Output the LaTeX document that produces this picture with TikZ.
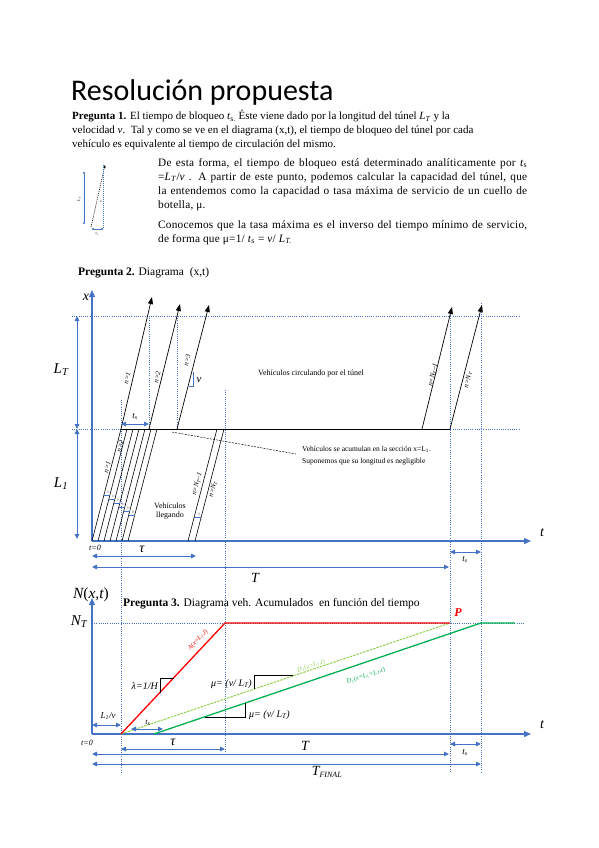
\documentclass[tikz,border=0pt]{standalone}
\usepackage{fontspec}
\setmainfont{Liberation Serif}
\newfontfamily\titlefont{Carlito}
\newfontfamily\parfont[LetterSpace=2]{Liberation Serif}
\usetikzlibrary{arrows.meta}
\definecolor{ablue}{HTML}{4472C4}
\definecolor{agreen}{HTML}{00B050}
\definecolor{lgreen}{HTML}{92D050}
\newcommand{\vsub}[2]{\textit{#1}\textsubscript{\textit{#2}}}
\begin{document}
\begin{tikzpicture}[x=1pt,y=-1pt,
  axis/.style={ablue, line width=1.3pt, -{Triangle[length=7pt,width=6pt]}},
  dim/.style={ablue, line width=0.9pt, {Triangle[length=5pt,width=4.5pt]}-{Triangle[length=5pt,width=4.5pt]}},
  guide/.style={ablue, line width=0.6pt, dash pattern=on 1pt off 1.2pt},
  traj/.style={black, line width=0.6pt},
  trajarrow/.style={black, line width=0.7pt, -{Triangle[length=7pt,width=5pt]}},
  body/.style={font=\fontsize{11}{13}\selectfont, inner sep=0pt, anchor=base west},
  pbody/.style={font=\parfont\fontsize{11.3}{13}\selectfont, inner sep=0pt, anchor=base west},
  head/.style={font=\fontsize{11.5}{13}\selectfont, inner sep=0pt, anchor=base west},
  tiny/.style={font=\fontsize{7}{8}\selectfont, inner sep=0pt},
  small/.style={font=\fontsize{7.5}{9}\selectfont, inner sep=0pt},
  note/.style={font=\fontsize{8}{9.5}\selectfont, inner sep=0pt},
  big/.style={font=\fontsize{14}{16}\selectfont\itshape, inner sep=0pt},
  tri/.style={black, line width=0.6pt},
]
\useasboundingbox (0,0) rectangle (599,848);

% ---------- Title and text ----------
\node[anchor=base west, inner sep=0pt, font=\titlefont\fontsize{30}{32}\selectfont] (title) at (71,101) {Resolución propuesta};
\node[body] (p1a) at (72,120) {\textbf{Pregunta 1.} El tiempo de bloqueo \textit{t}\textsubscript{s.} Éste viene dado por la longitud del túnel \vsub{L}{T} y la};
\node[body] (p1b) at (72,134) {velocidad \textit{v}.\ \ Tal y como se ve en el diagrama (x,t), el tiempo de bloqueo del túnel por cada};
\node[body] (p1c) at (72,147) {vehículo es equivalente al tiempo de circulación del mismo.};

\node[pbody] (p2a) at (158,166) {\makebox[369pt][s]{De esta forma, el tiempo de bloqueo está determinado analíticamente por \textit{t}\textsubscript{s}}};
\node[pbody] (p2b) at (158,180) {\makebox[369pt][s]{=\vsub{L}{T}/\textit{v} . A partir de este punto, podemos calcular la capacidad del túnel, que}};
\node[pbody] (p2c) at (158,194) {\makebox[369pt][s]{la entendemos como la capacidad o tasa máxima de servicio de un cuello de}};
\node[pbody] (p2d) at (158,208) {botella, μ.};
\node[pbody] (p3a) at (158,228) {\makebox[369pt][s]{Conocemos que la tasa máxima es el inverso del tiempo mínimo de servicio,}};
\node[pbody] (p3b) at (158,242) {de forma que μ=1/ \textit{t}\textsubscript{s} = \textit{v}/ \vsub{L}{T.}};

% small figure
\coordinate (sfA) at (84,172); \coordinate (sfB) at (84,224);
\draw[ablue, line width=0.7pt, {Circle[length=2pt]}-{Circle[length=2pt]}] (sfA) -- (sfB);
\coordinate (sfC) at (91,227); \coordinate (sfD) at (105,165);
\draw[black, line width=0.6pt, dash pattern=on 1pt off 1pt, -{Triangle[length=3pt,width=2.5pt]}] (sfC) -- (sfD);
\coordinate (sfE) at (103,165); \coordinate (sfF) at (103,229);
\draw[ablue, line width=0.5pt, dash pattern=on 1pt off 1pt] (sfE) -- (sfF);
\coordinate (sfG) at (92,229); \coordinate (sfH) at (103,229);
\draw[ablue, line width=0.5pt, {Circle[length=2pt]}-{Circle[length=2pt]}] (sfG) -- (sfH);
\node[font=\fontsize{4}{4}\selectfont\itshape, inner sep=0pt, rotate=90] (sfl) at (79,199) {L\textsubscript{T}};
\node[font=\fontsize{4}{4}\selectfont\itshape, inner sep=0pt, rotate=76] (sfv) at (101,201) {v};
\node[font=\fontsize{4}{4}\selectfont\itshape, inner sep=0pt] (sft) at (97,234) {t\textsubscript{s}};

% ---------- Pregunta 2 ----------
\node[head] (q2) at (78,275) {\textbf{Pregunta 2.} Diagrama\ \ (x,t)};

\coordinate (O1) at (92,541);
\coordinate (xtop) at (92,290);
\coordinate (tend1) at (531,541);

% guides
\draw[guide] (72,316) -- (520,316);
\draw[guide] (72,429) -- (520,429);
\draw[guide] (149,316) -- (149,429);
\draw[guide] (177,316) -- (177,429);
\draw[guide] (121,400) -- (121,772);
\draw[guide] (225,390) -- (225,752);
\draw[guide] (450,311) -- (450,772);
\draw[guide] (481,303) -- (481,772);

\draw[axis] (O1) -- (xtop);
\draw[axis] (O1) -- (tend1);
\node[big] (xl) at (86,297) {x};
\node[big] (tl1) at (542,533) {t};

\draw[dim] (77,316) -- (77,429);
\draw[dim] (77,429) -- (77,539);
\node[big, font=\fontsize{15}{16}\selectfont\itshape] (LT) at (61,370) {L\textsubscript{T}};
\node[big, font=\fontsize{15}{16}\selectfont\itshape] (L1) at (61,484) {L\textsubscript{1}};

% queue line
\coordinate (q0) at (121,429); \coordinate (q1) at (450,429);
\draw[black, line width=0.9pt] (q0) -- (q1);

% tunnel trajectories
\coordinate (u1a) at (121,429); \coordinate (u1b) at (152,297);
\coordinate (u2a) at (149,429); \coordinate (u2b) at (180,304);
\coordinate (u3a) at (177,429); \coordinate (u3b) at (209,305);
\coordinate (u4a) at (422,429); \coordinate (u4b) at (452,307);
\coordinate (u5a) at (450,429); \coordinate (u5b) at (482,305);
\foreach \i in {1,...,5} { \draw[trajarrow] (u\i a) -- (u\i b); }
\node[tiny, rotate=76.8] (ln1) at (127,378) {\textit{n=1}};
\node[tiny, rotate=76.8] (ln2) at (157,377) {\textit{n=2}};
\node[tiny, rotate=76.8] (ln3) at (187,360) {\textit{n=3}};
\node[tiny, rotate=76.8] (ln4) at (433,375) {\textit{n=N\textsubscript{T}–1}};
\node[tiny, rotate=76.8] (ln5) at (468,380) {\textit{n=N\textsubscript{T}}};

% v triangle
\draw[ablue, line width=0.6pt] (189,386) -- (193,386) -- (193,372);
\node[font=\fontsize{11}{12}\selectfont\itshape, inner sep=0pt] (vl) at (199,380) {v};

% t_s upper
\draw[dim] (121,424) -- (149,424);
\node[font=\fontsize{9}{10}\selectfont\itshape, inner sep=0pt] (tsu) at (135,416) {t\textsubscript{s}};

\node[note] (circ) at (311,374) {Vehículos circulando por el túnel};

% arrival trajectories
\foreach \b in {92,98,104,110,116,122,128} {
  \draw[traj] (\b,541) -- ({\b+29},429);
}
\draw[traj] (188,541) -- (217,429);
\draw[traj] (195,541) -- (224,429);
\node[tiny, rotate=75.5] (la1) at (107,467) {\textit{n=1}};
\node[tiny, rotate=75.5] (la2) at (120,446) {\textit{n=2}};
\node[tiny, rotate=75.5] (la3) at (197,484) {\textit{n=N\textsubscript{T}–1}};
\node[tiny, rotate=75.5] (la4) at (213,489) {\textit{n=N\textsubscript{T}}};

% H marks
\foreach \y/\o [count=\k] in {495/11.9, 499/10.9, 503/9.8, 507/8.8, 511/7.8, 515/6.7} {
  \pgfmathsetmacro{\xa}{92+6*(\k-1)+\o}
  \draw[ablue, line width=0.7pt] (\xa,\y) -- ({\xa+6},\y);
  \node[font=\fontsize{3.5}{4}\selectfont, text=gray, inner sep=0pt] at ({\xa+4.5},{\y-2.5}) {H};
}
\draw[ablue, line width=0.7pt] (194.2,517) -- (201.2,517);
\node[font=\fontsize{3.5}{4}\selectfont, text=gray, inner sep=0pt] (hN) at (199,514.5) {H};

\node[note, align=center] (lleg) at (170,511) {Vehículos\\llegando};

% accumulation note
\coordinate (dn0) at (172,432); \coordinate (dn1) at (296,454);
\draw[black, line width=0.5pt, dash pattern=on 2pt off 1.2pt] (dn0) -- (dn1);
\node[small, anchor=base west] (acc1) at (302,451) {Vehículos se acumulan en la sección x=L\textsubscript{1}.};
\node[small, anchor=base west] (acc2) at (302,463) {Suponemos que su longitud es negligible};

% dims lower of upper diagram
\node[font=\fontsize{8}{9}\selectfont\itshape, inner sep=0pt] (t0a) at (95,548) {t=0};
\draw[dim] (92,556) -- (196,556);
\node[big] (tau1) at (142,549) {τ};
\draw[dim] (92,567) -- (449,567);
\node[big] (T1) at (255,578) {T};
\draw[dim] (450,552) -- (481,552);
\node[font=\fontsize{9}{10}\selectfont\itshape, inner sep=0pt] (ts1) at (465,559) {t\textsubscript{s}};

% ---------- Pregunta 3 ----------
\coordinate (O2) at (92,734);
\coordinate (Ntop) at (92,598);
\coordinate (tend2) at (531,734);
\draw[guide] (92,623) -- (525,623);
\draw[axis] (O2) -- (Ntop);
\draw[axis] (O2) -- (tend2);
\node[inner sep=0pt, anchor=east, font=\fontsize{15.5}{16}\selectfont\itshape] (Nxt) at (109,595) {N\upshape(\itshape x,t\upshape)};
\node[big] (tl2) at (542,725) {t};
\node[big, font=\fontsize{15}{16}\selectfont\itshape] (NT) at (79,622) {N\textsubscript{T}};
\node[font=\fontsize{8}{9}\selectfont\itshape, inner sep=0pt] (t0b) at (87,743) {t=0};
\node[head] (q3) at (123,606) {\textbf{Pregunta 3.} Diagrama veh. Acumulados\ \ en función del tiempo};

\coordinate (A0) at (121,734); \coordinate (A1) at (225,623); \coordinate (Pp) at (450,623);
\coordinate (D0) at (154,734); \coordinate (D1) at (481,623); \coordinate (D2) at (515,623);
\draw[lgreen, line width=1pt, dash pattern=on 2.5pt off 1pt] (A0) -- (Pp);
\draw[red, line width=1.3pt] (A0) -- (A1) -- (Pp);
\draw[agreen, line width=1.3pt] (D0) -- (D1) -- (D2);
\node[text=red, font=\fontsize{12}{14}\selectfont\bfseries\itshape, inner sep=0pt] (Pl) at (458,613) {P};
\node[text=red, font=\fontsize{6.5}{7}\selectfont, inner sep=0pt, rotate=47] (Al) at (198,640) {\textit{A}(\textit{x=L\textsubscript{1},t})};
\node[text=lgreen, font=\fontsize{6.5}{7}\selectfont, inner sep=0pt, rotate=18.6] (D1l) at (311,666) {\textit{D\textsubscript{1}}(\textit{x=L\textsubscript{1},t})};
\node[text=agreen, font=\fontsize{6.5}{7}\selectfont, inner sep=0pt, rotate=18.4] (D2l) at (366,676) {\textit{D\textsubscript{1}}(\textit{x=L\textsubscript{1}+L\textsubscript{T},t})};

% slope triangles
\draw[tri] (160,693) -- (160,678) -- (174,678);
\node[font=\fontsize{10}{11}\selectfont\itshape, inner sep=0pt, anchor=east] (lam) at (158,686) {λ=1/H};
\draw[tri] (254,689) -- (254,675) -- (293,675);
\node[font=\fontsize{10}{11}\selectfont\itshape, inner sep=0pt, anchor=east] (mu1) at (252,684) {μ= (v/ L\textsubscript{T})};
\draw[tri] (205,717) -- (245,717) -- (245,703);
\node[font=\fontsize{10}{11}\selectfont\itshape, inner sep=0pt, anchor=west] (mu2) at (249,715) {μ= (v/ L\textsubscript{T})};

% dims lower diagram
\draw[dim] (92,725) -- (121,725);
\node[font=\fontsize{9}{10}\selectfont\itshape, inner sep=0pt] (L1v) at (108,716) {L\textsubscript{1}/v};
\draw[dim] (131,729) -- (163,729);
\node[font=\fontsize{8}{9}\selectfont\itshape, inner sep=0pt] (ts2) at (148,723) {t\textsubscript{s}};
\draw[dim] (121,749) -- (225,749);
\node[big] (tau2) at (173,742) {τ};
\draw[dim] (92,754) -- (449,754);
\node[big] (T2) at (305,746) {T};
\draw[dim] (450,744) -- (481,744);
\node[font=\fontsize{9}{10}\selectfont\itshape, inner sep=0pt] (ts3) at (465,752) {t\textsubscript{s}};
\draw[dim] (92,764) -- (481,764);
\node[big] (TF) at (327,772) {T\textsubscript{\fontsize{8}{9}\selectfont FINAL}};
\end{tikzpicture}
\end{document}
